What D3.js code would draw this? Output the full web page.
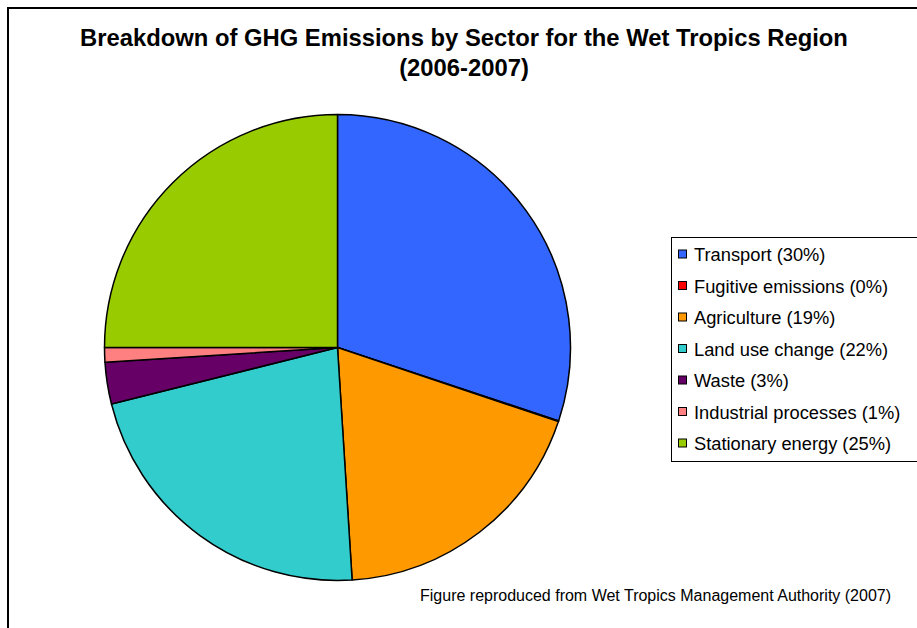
<!DOCTYPE html>
<html><head><meta charset="utf-8">
<script src="https://cdn.jsdelivr.net/npm/d3@7"></script>
<style>html,body{margin:0;padding:0;background:#fff;}svg{display:block;}</style>
</head><body>
<svg id="chart" width="917" height="628"></svg>
<script>
const categories = ["Transport", "Fugitive emissions", "Agriculture", "Land use change", "Waste", "Industrial processes", "Stationary energy"];
const values = [30.1, 0.05, 18.85, 22.1, 2.9, 1.0, 25.0];
const legendLabels = ["Transport (30%)", "Fugitive emissions (0%)", "Agriculture (19%)", "Land use change (22%)", "Waste (3%)", "Industrial processes (1%)", "Stationary energy (25%)"];
const colors = ["#3366FF", "#FF0000", "#FF9900", "#33CCCC", "#660066", "#FF8080", "#99CC00"];

const svg = d3.select("#chart");
const font = "'Liberation Sans', Arial, sans-serif";

// frame
svg.append("path").attr("d", "M8,628 V8 H917").attr("fill", "none").attr("stroke", "#000").attr("stroke-width", 2);

// title
const title = svg.append("text").attr("text-anchor", "middle").attr("font-family", font)
  .attr("font-weight", "bold").attr("font-size", 23.8).attr("fill", "#000");
title.append("tspan").attr("x", 464).attr("y", 46).text("Breakdown of GHG Emissions by Sector for the Wet Tropics Region");
title.append("tspan").attr("x", 464).attr("y", 76).text("(2006-2007)");

// pie
const cx = 337.5, cy = 347.5, r = 233;
const pie = d3.pie().sort(null).value(d => d)(values);
const arc = d3.arc().innerRadius(0).outerRadius(r);
const g = svg.append("g").attr("transform", `translate(${cx},${cy})`);
g.selectAll("path").data(pie).join("path")
  .attr("d", arc)
  .attr("fill", (d, i) => colors[i])
  .attr("stroke", "#000").attr("stroke-width", 1.5).attr("stroke-linejoin", "round");

// legend
const lg = svg.append("g");
lg.append("rect").attr("x", 671.5).attr("y", 237.5).attr("width", 260).attr("height", 224)
  .attr("fill", "#fff").attr("stroke", "#000").attr("stroke-width", 1);
const y0 = 254.5, dy = 31.5;
const rows = lg.selectAll("g.row").data(legendLabels).join("g").attr("class", "row")
  .attr("transform", (d, i) => `translate(0,${y0 + i * dy})`);
rows.append("rect").attr("x", 678.5).attr("y", -4.5).attr("width", 8).attr("height", 8)
  .attr("fill", (d, i) => colors[i]).attr("stroke", "#000").attr("stroke-width", 1);
rows.append("text").attr("x", 694).attr("y", 6.5).attr("font-family", font).attr("font-size", 18.3)
  .attr("fill", "#000").text(d => d);

// footer
svg.append("text").attr("x", 420).attr("y", 601).attr("font-family", font).attr("font-size", 16)
  .attr("fill", "#000").text("Figure reproduced from Wet Tropics Management Authority (2007)");
</script>
</body></html>
